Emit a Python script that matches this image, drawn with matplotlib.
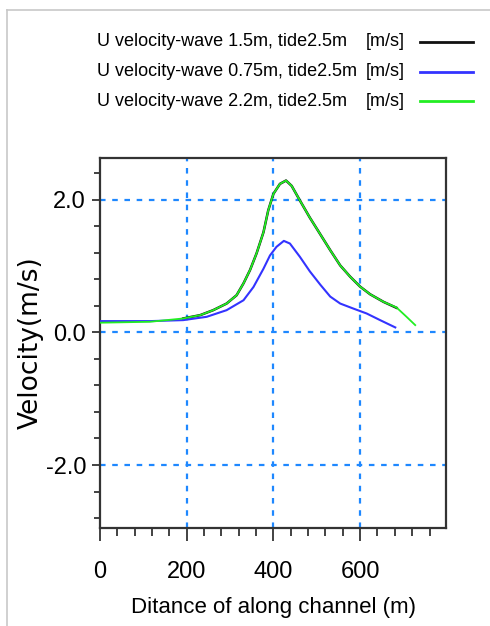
import matplotlib
matplotlib.use("Agg")
import matplotlib.pyplot as plt
from matplotlib.lines import Line2D
from matplotlib.ticker import MultipleLocator, FixedLocator

# ---- data ----
x_black = [192, 231, 261, 292, 315, 331, 346, 361, 377, 388, 400, 415, 429, 442, 461, 484, 508, 531, 554, 577, 600, 623, 654, 684]
y_black = [0.21, 0.26, 0.335, 0.435, 0.56, 0.74, 0.94, 1.19, 1.51, 1.84, 2.09, 2.24, 2.29, 2.21, 1.99, 1.73, 1.48, 1.24, 1.01, 0.84, 0.69, 0.575, 0.46, 0.37]

x_blue = [0, 115, 192, 246, 292, 331, 354, 377, 392, 407, 424, 438, 461, 484, 508, 531, 554, 584, 615, 646, 681]
y_blue = [0.17, 0.17, 0.185, 0.235, 0.335, 0.485, 0.685, 0.96, 1.16, 1.29, 1.38, 1.34, 1.14, 0.92, 0.72, 0.54, 0.435, 0.36, 0.285, 0.185, 0.075]

x_green = [0, 115, 192, 231, 261, 292, 315, 331, 346, 361, 377, 388, 400, 415, 429, 442, 461, 484, 508, 531, 554, 577, 600, 623, 654, 684, 707, 727]
y_green = [0.146, 0.16, 0.21, 0.26, 0.335, 0.435, 0.56, 0.74, 0.94, 1.19, 1.51, 1.84, 2.09, 2.24, 2.29, 2.21, 1.99, 1.73, 1.48, 1.24, 1.01, 0.84, 0.69, 0.575, 0.46, 0.375, 0.235, 0.11]

legend_labels = ["U velocity-wave 1.5m, tide2.5m", "U velocity-wave 0.75m, tide2.5m", "U velocity-wave 2.2m, tide2.5m"]
legend_unit = "[m/s]"
x_ticks = [0, 200, 400, 600]
x_ticklabels = ["0", "200", "400", "600"]
y_ticks = [2.0, 0.0, -2.0]
y_ticklabels = ["2.0", "0.0", "-2.0"]

NARROW = ["Liberation Sans Narrow", "Liberation Sans", "DejaVu Sans"]

W, H = 490, 626
fig = plt.figure(figsize=(W / 100, H / 100), dpi=100)

def fx(px):
    return px / W

def fy(py):
    return 1 - py / H

ax = fig.add_axes([fx(100), fy(528), fx(446) - fx(100), fy(158) - fy(528)])

colors = ["#111111", "#3333ff", "#22ee22"]
ax.plot(x_black, y_black, color=colors[0], lw=1.8, zorder=3)
ax.plot(x_blue, y_blue, color=colors[1], lw=1.5, zorder=3)
ax.plot(x_green, y_green, color=colors[2], lw=1.3, zorder=4)

ax.set_xlim(0, 798)
ax.set_ylim(-2.95, 2.63)

ax.xaxis.set_major_locator(FixedLocator(x_ticks))
ax.xaxis.set_minor_locator(MultipleLocator(40))
ax.yaxis.set_major_locator(FixedLocator(y_ticks))
ax.yaxis.set_minor_locator(MultipleLocator(0.4))
ax.set_xticklabels(x_ticklabels, fontfamily=NARROW, fontsize=17)
ax.set_yticklabels(y_ticklabels, fontfamily=NARROW, fontsize=17)

ax.tick_params(axis="x", which="major", length=9.5, width=1.2, direction="out", pad=14, color="#222222")
ax.tick_params(axis="x", which="minor", length=5.5, width=1.2, direction="out", color="#222222")
ax.tick_params(axis="y", which="major", length=6, width=1.2, direction="out", pad=4, color="#222222")
ax.tick_params(axis="y", which="minor", length=4, width=1.2, direction="out", color="#222222")

for s in ax.spines.values():
    s.set_linewidth(1.6)
    s.set_color("#333333")

for xv in x_ticks[1:]:
    ax.axvline(xv, color="#1e88ff", lw=1.6, ls=(0, (2.5, 3)), zorder=1)
for yv in y_ticks:
    ax.axhline(yv, color="#1e88ff", lw=1.6, ls=(0, (2.5, 3)), zorder=1)

ax.set_xlabel("Ditance of along channel (m)", fontfamily=NARROW, fontsize=16, labelpad=10)
ax.set_ylabel("Velocity(m/s)", fontfamily="DejaVu Sans", fontsize=19)
ax.yaxis.set_label_coords((44 - 100) / 346, 0.5)

# legend (outside, top)
rows_y = [42, 72, 101]
for lab, c, ry in zip(legend_labels, colors, rows_y):
    fig.text(fx(97), fy(ry), lab, fontfamily=NARROW, fontsize=13, ha="left", va="center")
    fig.text(fx(405), fy(ry), legend_unit, fontfamily=NARROW, fontsize=13, ha="right", va="center")
    fig.add_artist(Line2D([fx(420), fx(473)], [fy(ry), fy(ry)], color=c, lw=2, transform=fig.transFigure))

# light gray frame (top and left)
fig.add_artist(Line2D([fx(7), fx(7)], [fy(10), 0], color="#c8c8c8", lw=1.2, transform=fig.transFigure))
fig.add_artist(Line2D([fx(7), 1], [fy(10), fy(10)], color="#c8c8c8", lw=1.2, transform=fig.transFigure))

fig.savefig("out.png", dpi=100)
